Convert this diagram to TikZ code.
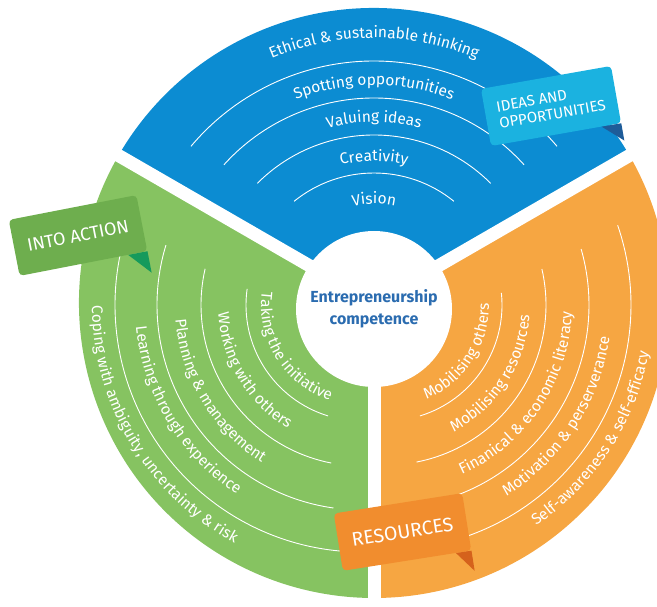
\documentclass[tikz,border=0pt]{standalone}
\usepackage{fontspec}
\setmainfont{Fira Sans}
\usetikzlibrary{decorations.text,calc}
\definecolor{cblue}{RGB}{12,140,210}
\definecolor{cgreen}{RGB}{134,195,97}
\definecolor{corange}{RGB}{246,166,66}
\definecolor{ribblue}{RGB}{27,178,224}
\definecolor{foldblue}{RGB}{30,92,153}
\definecolor{ribgreen}{RGB}{110,174,78}
\definecolor{foldgreen}{RGB}{22,154,92}
\definecolor{riborange}{RGB}{241,141,46}
\definecolor{foldorange}{RGB}{213,98,28}
\definecolor{coretext}{RGB}{43,108,176}
\newcommand\ringfont{\fontsize{15.5}{17}\selectfont}
\tikzset{
  arcl/.style={draw=white, line width=0.9pt},
  gapline/.style={draw=white, line width=13pt},
  ringtext/.style={decorate, decoration={text along path, text align=center, text color=white, text={|\ringfont|#1}}},
  ribbon/.style={text=white, rounded corners=4pt, inner sep=0pt, align=left},
}
\begin{document}
\begin{tikzpicture}[x=1pt,y=1pt]
\useasboundingbox (0,0) rectangle (657,-607);
\coordinate (C) at (374,-303);
\coordinate (H) at (374,-309);
\coordinate (B) at (374,-300);
\coordinate (G) at (362,-305);
\coordinate (O) at (386,-305);
% sectors
\fill[cblue] (C) -- ([shift={(30:295)}]C) arc[start angle=30,end angle=150,radius=295] -- cycle;
\fill[cgreen] (C) -- ([shift={(150:295)}]C) arc[start angle=150,end angle=270,radius=295] -- cycle;
\fill[corange] (C) -- ([shift={(270:295)}]C) arc[start angle=270,end angle=390,radius=295] -- cycle;
\draw[gapline] (C) -- ([shift={(30:310)}]C);
\draw[gapline] (C) -- ([shift={(150:310)}]C);
\draw[gapline] (C) -- ([shift={(270:310)}]C);
\fill[white] (H) circle[radius=78];
% blue arcs
\draw[arcl] ([shift={(129:127)}]B) arc[start angle=129,end angle=51,radius=127];
\draw[arcl] ([shift={(135:165)}]B) arc[start angle=135,end angle=45,radius=165];
\draw[arcl] ([shift={(138:202)}]B) arc[start angle=138,end angle=42,radius=202];
\draw[arcl] ([shift={(140:239)}]B) arc[start angle=140,end angle=40,radius=239];
% blue texts
\path[ringtext={Vision}] ([shift={(150:96)}]B) arc[start angle=150,end angle=30,radius=96];
\path[ringtext={Creativity}] ([shift={(150:139)}]B) arc[start angle=150,end angle=30,radius=139];
\path[ringtext={Valuing ideas}] ([shift={(150:178)}]B) arc[start angle=150,end angle=30,radius=178];
\path[ringtext={Spotting opportunities}] ([shift={(150:215)}]B) arc[start angle=150,end angle=30,radius=215];
\path[ringtext={Ethical {\&} sustainable thinking}] ([shift={(150:262)}]B) arc[start angle=150,end angle=30,radius=262];
% green arcs
\draw[arcl] ([shift={(172:116)}]G) arc[start angle=172,end angle=253,radius=116];
\draw[arcl] ([shift={(167:161)}]G) arc[start angle=167,end angle=259,radius=161];
\draw[arcl] ([shift={(163:205)}]G) arc[start angle=163,end angle=262,radius=205];
\draw[arcl] ([shift={(160:247)}]G) arc[start angle=160,end angle=265,radius=247];
% green texts
\path[ringtext={Taking the initiative}] ([shift={(152:101)}]G) arc[start angle=152,end angle=272,radius=101];
\path[ringtext={Working with others}] ([shift={(151:144)}]G) arc[start angle=151,end angle=271,radius=144];
\path[ringtext={Planning {\&} management}] ([shift={(151:187)}]G) arc[start angle=151,end angle=271,radius=187];
\path[ringtext={Learning through experience}] ([shift={(151:227)}]G) arc[start angle=151,end angle=271,radius=227];
\path[ringtext={Coping with ambiguity, uncertainty {\&} risk}] ([shift={(151:270)}]G) arc[start angle=151,end angle=271,radius=270];
% orange arcs
\draw[arcl] ([shift={(287:116)}]O) arc[start angle=287,end angle=366,radius=116];
\draw[arcl] ([shift={(281:160)}]O) arc[start angle=281,end angle=373,radius=160];
\draw[arcl] ([shift={(278:203)}]O) arc[start angle=278,end angle=376,radius=203];
\draw[arcl] ([shift={(275:245)}]O) arc[start angle=275,end angle=379,radius=245];
% orange texts
\path[ringtext={Mobilising others}] ([shift={(267:103)}]O) arc[start angle=267,end angle=387,radius=103];
\path[ringtext={Mobilising resources}] ([shift={(267:144)}]O) arc[start angle=267,end angle=387,radius=144];
\path[ringtext={Finanical {\&} economic literacy}] ([shift={(266:186)}]O) arc[start angle=266,end angle=386,radius=186];
\path[ringtext={Motivation {\&} perserverance}] ([shift={(267:226)}]O) arc[start angle=267,end angle=387,radius=226];
\path[ringtext={Self-awareness {\&} self-efficacy}] ([shift={(267:267)}]O) arc[start angle=267,end angle=387,radius=267];
% centre
\node[font=\bfseries\fontsize{16}{22}\selectfont, text=coretext, align=center] (core) at (H) {Entrepreneurship\\competence};
% ribbons
\node[ribbon, fill=ribblue, rotate=10, minimum width=132, minimum height=58, font=\fontsize{15}{17}\selectfont] (ideas) at (551,-106) {IDEAS AND\\OPPORTUNITIES};
\fill[foldblue] ($(ideas.south east)!0.15!(ideas.south west)$) -- (ideas.south east) -- ($(ideas.south east)!-0.3!(ideas.north east)$) -- cycle;
\node[ribbon, fill=ribgreen, rotate=11, minimum width=130, minimum height=57, font=\fontsize{18}{20}\selectfont] (action) at (78,-235.5) {INTO ACTION};
\fill[foldgreen] ($(action.south east)!0.15!(action.south west)$) -- (action.south east) -- ($(action.south east)!-0.38!(action.north east)$) -- cycle;
\node[ribbon, fill=riborange, rotate=9, minimum width=130, minimum height=58, font=\fontsize{19.5}{21}\selectfont] (res) at (402.5,-532) {RESOURCES};
\fill[foldorange] ($(res.south east)!0.12!(res.south west)$) -- (res.south east) -- ($(res.south east)!-0.35!(res.north east)$) -- cycle;
\end{tikzpicture}
\end{document}
